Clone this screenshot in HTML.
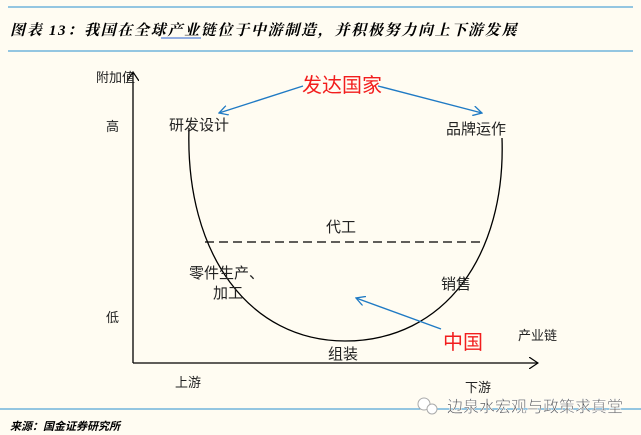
<!DOCTYPE html><html><head><meta charset="utf-8"><style>
body{margin:0;width:641px;height:435px;background:#fffcf2;overflow:hidden;font-family:"Liberation Sans","Noto Sans CJK SC",sans-serif}
svg{position:absolute;left:0;top:0}
</style></head><body>
<svg width="641" height="435" viewBox="0 0 641 435">
<defs><marker id="b" markerWidth="10" markerHeight="10" refX="9" refY="5" orient="auto" markerUnits="userSpaceOnUse"><path d="M0,0 L9,5 L0,10" fill="none" stroke="#1f7ac4" stroke-width="1.3"/></marker>
<marker id="k" markerWidth="10" markerHeight="12" refX="9" refY="6" orient="auto" markerUnits="userSpaceOnUse"><path d="M0,0 L9,6 L0,12" fill="none" stroke="#000" stroke-width="1.2"/></marker></defs>
<line x1="8" y1="7" x2="633" y2="7" stroke="#2a8fd0" stroke-width="1"/>
<line x1="8" y1="51" x2="633" y2="51" stroke="#2a8fd0" stroke-width="1"/>
<line x1="0" y1="409" x2="641" y2="409" stroke="#2a8fd0" stroke-width="1"/>
<text x="10" y="35" font-size="15" font-style="italic" font-weight="bold" letter-spacing="1.7" font-family="Liberation Serif,'Noto Serif CJK SC',serif">图表 13：我国在全球产业链位于中游制造，并积极努力向上下游发展</text>
<line x1="161" y1="38" x2="201" y2="38" stroke="#2a5fd0" stroke-width="1"/>
<line x1="133" y1="363" x2="133" y2="72" stroke="#000" stroke-width="1.3" marker-end="url(#k)"/>
<line x1="133" y1="363" x2="538" y2="363" stroke="#000" stroke-width="1.3" marker-end="url(#k)"/>
<path d="M189,128 C185,255 250,341 345,341 C445,341 506,255 502,138" fill="none" stroke="#000" stroke-width="1.3"/>
<line x1="205" y1="242" x2="483" y2="242" stroke="#000" stroke-width="1.3" stroke-dasharray="9,5"/>
<line x1="303" y1="86" x2="219" y2="113" stroke="#1f7ac4" stroke-width="1.4" marker-end="url(#b)"/>
<line x1="378" y1="86" x2="482" y2="113" stroke="#1f7ac4" stroke-width="1.4" marker-end="url(#b)"/>
<line x1="441" y1="329" x2="356" y2="298" stroke="#1f7ac4" stroke-width="1.4" marker-end="url(#b)"/>
<g font-size="14" fill="#222">
<text x="96" y="82" font-size="13">附加值</text>
<text x="106" y="131" font-size="13">高</text>
<text x="106" y="322" font-size="13">低</text>
<text x="169" y="130" font-size="15">研发设计</text>
<text x="446" y="134" font-size="15">品牌运作</text>
<text x="326" y="232" font-size="15">代工</text>
<text x="189" y="278" font-size="15">零件生产、</text>
<text x="213" y="298" font-size="15">加工</text>
<text x="441" y="289" font-size="15">销售</text>
<text x="328" y="359" font-size="15">组装</text>
<text x="518" y="340" font-size="13">产业链</text>
<text x="175" y="387" font-size="13">上游</text>
<text x="465" y="392" font-size="13">下游</text>
</g>
<text x="302" y="92" font-size="20" fill="#f21d1d">发达国家</text>
<text x="443" y="349" font-size="20" fill="#f21d1d">中国</text>
<text x="447" y="412" font-size="16" fill="#555" stroke="#fff" stroke-width="0.5">边泉水宏观与政策求真堂</text>
<circle cx="424" cy="404" r="6" fill="#fff" stroke="#aaa"/><circle cx="432" cy="409" r="5" fill="#fff" stroke="#aaa"/>
<text x="10" y="430" font-size="11" font-weight="bold" font-style="italic">来源：国金证券研究所</text>
</svg></body></html>
